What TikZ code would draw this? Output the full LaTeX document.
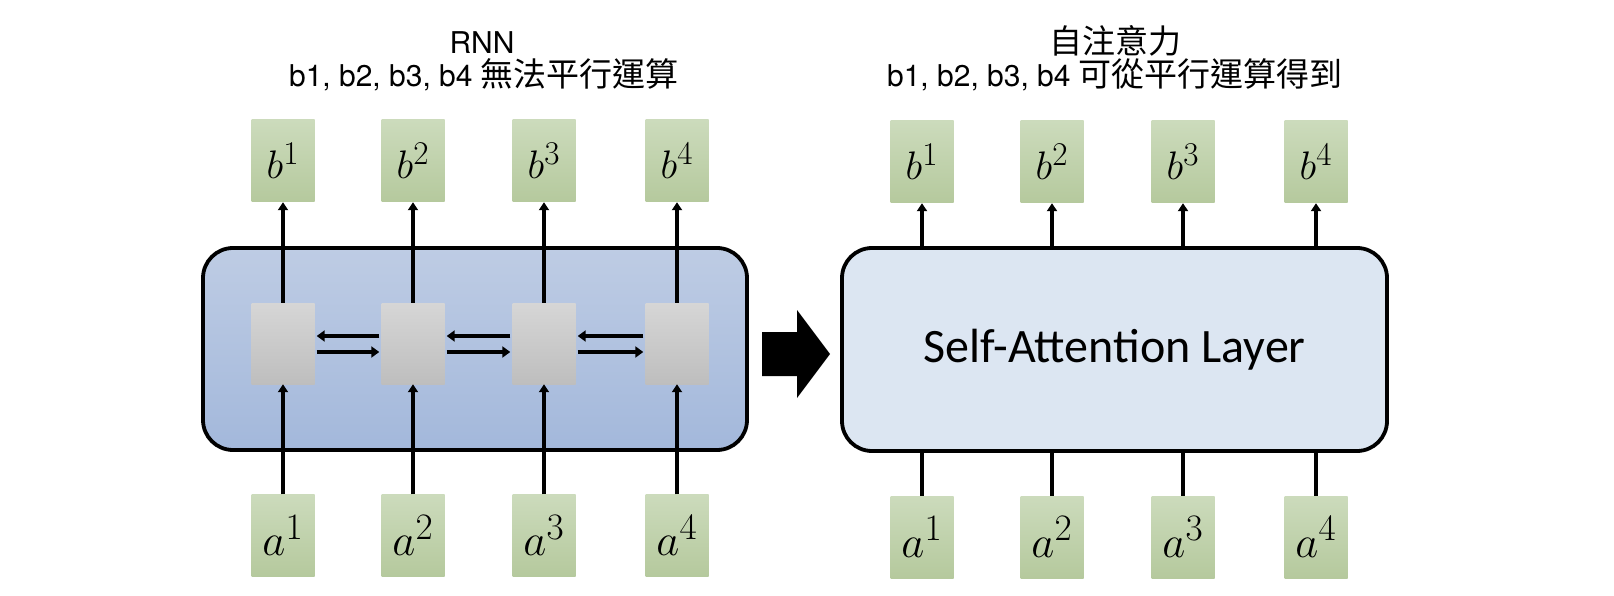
\documentclass[tikz,border=0pt]{standalone}
\usepackage[no-math]{fontspec}
\setmainfont{TeX Gyre Heros}
\newfontfamily\cjk{Noto Sans CJK TC}
\newfontfamily\calib{Carlito}
\usetikzlibrary{arrows.meta}
\definecolor{gtop}{RGB}{204,219,188}
\definecolor{gbot}{RGB}{181,201,157}
\definecolor{ctop}{RGB}{214,214,214}
\definecolor{cbot}{RGB}{190,190,190}
\definecolor{rtop}{RGB}{190,204,228}
\definecolor{rbot}{RGB}{163,184,219}
\definecolor{safill}{RGB}{220,230,242}
\newcommand\mymath[2]{\Huge\scalebox{#1}{$#2$}}
\begin{document}
\begin{tikzpicture}[x=1pt,y=-1pt,
  gbox/.style={rectangle, minimum width=63pt, minimum height=82pt, inner sep=0pt, top color=gtop, bottom color=gbot, draw=none},
  cellbox/.style={rectangle, minimum width=63pt, minimum height=81pt, inner sep=0pt, top color=ctop, bottom color=cbot, draw=none},
  ttxt/.style={font=\fontsize{30}{36}\selectfont, anchor=base, inner sep=0pt},
  arr/.style={line width=3.1pt, -{Triangle[length=8pt,width=10pt]}},
  harr/.style={line width=3.3pt, -{Triangle[length=8pt,width=11pt]}, shorten <=2pt, shorten >=2pt},
  ln/.style={line width=3.1pt},
  bigbox/.style={rectangle, rounded corners=30pt, line width=3.8pt, draw=black, inner sep=0pt}
]
\useasboundingbox[fill=white] (0,0) rectangle (1614,596);

% titles
\node[ttxt] (tL1) at (482,53.3) {RNN};
\node[ttxt] (tL2) at (484,86.7) {b1, b2, b3, b4 {\cjk\fontsize{33}{36}\selectfont 無法平行運算}};
\node[ttxt] (tR1) at (1115,53.3) {{\cjk\fontsize{33}{36}\selectfont 自注意力}};
\node[ttxt] (tR2) at (1115,86.7) {b1, b2, b3, b4 {\cjk\fontsize{33}{36}\selectfont 可從平行運算得到}};

% RNN block
\node[bigbox, minimum width=544pt, minimum height=202pt, top color=rtop, bottom color=rbot] (rnn) at (475,349) {};
\foreach \i/\x in {1/283,2/413,3/544,4/677}{
  \node[gbox] (bL\i) at (\x,161) {\mymath{1.6}{b^{\i}}};
  \node[gbox] (aL\i) at (\x,535.5) {\mymath{1.8}{a^{\i}}};
  \node[cellbox] (c\i) at (\x,343.5) {};
  \draw[arr] (c\i.north) -- (bL\i.south);
  \draw[arr] (aL\i.north) -- (c\i.south);
}
\foreach \i/\j in {1/2,2/3,3/4}{
  \draw[harr] ([yshift=7.5pt]c\j.west) -- ([yshift=7.5pt]c\i.east);
  \draw[harr] ([yshift=-8.5pt]c\i.east) -- ([yshift=-8.5pt]c\j.west);
}

% big arrow
\fill[black] (762,332) -- (797,332) -- (797,310) -- (830,354) -- (797,398) -- (797,376) -- (762,376) -- cycle;

% Self-attention block
\node[bigbox, minimum width=545pt, minimum height=203pt, fill=safill] (sa) at (1114.5,349.5) {\calib\fontsize{48}{52}\selectfont Self-Attention Layer};
\foreach \i/\x in {1/922,2/1052,3/1183,4/1316}{
  \node[gbox] (bR\i) at (\x,162) {\mymath{1.6}{b^{\i}}};
  \node[gbox] (aR\i) at (\x,537) {\mymath{1.8}{a^{\i}}};
  \draw[arr] (bR\i.south |- sa.north) -- (bR\i.south);
  \draw[ln] (aR\i.north) -- (aR\i.north |- sa.south);
}
\end{tikzpicture}
\end{document}
